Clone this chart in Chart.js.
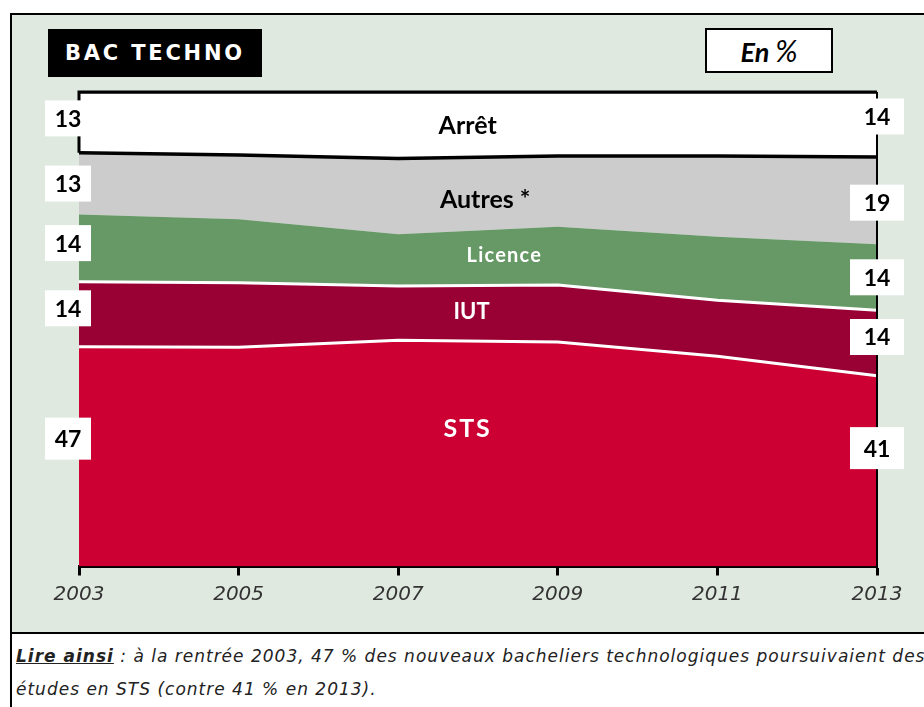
<!DOCTYPE html>
<html lang="fr">
<head>
<meta charset="utf-8">
<title>Bac techno</title>
<script src="https://cdn.jsdelivr.net/npm/chart.js@4/dist/chart.umd.min.js"></script>
<style>
  body { margin: 0; width: 924px; height: 707px; overflow: hidden; background: #fff; position: relative; }
  #panel { position: absolute; left: 10px; top: 13px; width: 930px; height: 617px; background: #dfe9e0; border: 2px solid #000; }
  #caption { position: absolute; left: 10px; top: 634px; width: 930px; height: 80px; border-left: 2px solid #000; }
  #caption p { margin: 0; position: absolute; left: 4px; white-space: nowrap; font: italic 17px "DejaVu Sans", sans-serif; color: #222; letter-spacing: 1px; }
  #title { position: absolute; left: 48px; top: 29px; width: 214px; height: 48px; background: #000; color: #fff;
           font: bold 21px "DejaVu Sans", sans-serif; letter-spacing: 2.8px; line-height: 48px; text-align: center; }
  #unit { position: absolute; left: 705px; top: 28px; width: 124px; height: 41px; background: #fff; border: 2px solid #000;
          font: italic bold 27px Lato, sans-serif; line-height: 41px; text-align: center; color: #000; }
  #unit span { font-weight: normal; font-size: 30px; }
  canvas { position: absolute; left: 0; top: 0; }
</style>
</head>
<body>
<div id="panel"></div>
<div id="title">BAC TECHNO</div>
<div id="unit">En <span>%</span></div>
<div id="caption">
  <p style="top: 12px;"><b><u>Lire ainsi</u></b> : à la rentrée 2003, 47 % des nouveaux bacheliers technologiques poursuivaient des</p>
  <p style="top: 45px;">études en STS (contre 41 % en 2013).</p>
</div>
<canvas id="chart" width="924" height="707"></canvas>
<script>
// years and shares (%), bottom to top of the stack
const years = ['2003', '2005', '2007', '2009', '2011', '2013'];
const sts = [46.3, 46.2, 47.7, 47.3, 44.3, 40.2];
const iut = [13.7, 13.6, 11.4, 12.0, 11.8, 13.8];
const licence = [14.2, 13.4, 10.9, 12.3, 13.4, 13.9];
const autres = [13.0, 13.5, 16.0, 14.9, 17.0, 18.4];
const arret = [12.8, 13.3, 14.0, 13.5, 13.5, 13.7];

// printed values at both ends (STS, IUT, Licence, Autres, Arrêt)
const startLabels = ['47', '14', '14', '13', '13'];
const endLabels = ['41', '14', '14', '19', '14'];
const bandNames = ['STS', 'IUT', 'Licence', 'Autres *', 'Arrêt'];

// label placement (pixel nudges / value-space positions)
const startNudge = [-18, -6, -5, 0, -4];
const endNudge = [-23, -6, 0, 2, -8];
const nameSpots = [
  { x: 0.487, v: 28.9, font: 'bold 25px Lato', color: '#fff', spacing: '2px' },
  { x: 0.492, v: 53.6, font: 'bold 22px Lato', color: '#fff', spacing: '0px' },
  { x: 0.533, v: 65.6, font: 'bold 20px Lato', color: '#fff', spacing: '1.2px' },
  { x: 0.509, v: 77.2, font: 'bold 25px Lato', color: '#000', spacing: '0px' },
  { x: 0.487, v: 92.8, font: 'bold 25px Lato', color: '#000', spacing: '0px' }
];

const series = [sts, iut, licence, autres, arret];

const labelPlugin = {
  id: 'bandLabels',
  afterDatasetsDraw(chart) {
    const { ctx, chartArea, scales: { x, y } } = chart;
    const bandMid = (i, idx) => {
      let lo = 0;
      for (let k = 0; k < idx; k++) lo += series[k][i];
      return y.getPixelForValue(lo + series[idx][i] / 2);
    };

    ctx.save();
    // frame of the chart area
    ctx.strokeStyle = '#000';
    ctx.lineWidth = 3;
    ctx.beginPath();
    ctx.moveTo(chartArea.left, y.getPixelForValue(100 - arret[0]));
    ctx.lineTo(chartArea.left, chartArea.top);
    ctx.lineTo(chartArea.right, chartArea.top);
    ctx.stroke();
    ctx.lineWidth = 2;
    ctx.beginPath();
    ctx.moveTo(chartArea.right, chartArea.top);
    ctx.lineTo(chartArea.right, chartArea.bottom);
    ctx.stroke();

    // value boxes
    ctx.textAlign = 'center';
    ctx.textBaseline = 'middle';
    ctx.font = 'bold 23px Lato';
    const last = years.length - 1;
    series.forEach((s, idx) => {
      const h = idx === 0 ? 42 : 36;
      const ly = bandMid(0, idx) + startNudge[idx];
      const lx = x.getPixelForValue(0) - 11;
      ctx.fillStyle = '#fff';
      ctx.fillRect(lx - 23, ly - h / 2, 46, h);
      ctx.fillStyle = '#000';
      ctx.fillText(startLabels[idx], lx, ly + 1);

      const ry = bandMid(last, idx) + endNudge[idx];
      const rx = x.getPixelForValue(last);
      ctx.fillStyle = '#fff';
      ctx.fillRect(rx - 27, ry - h / 2, 54, h);
      ctx.fillStyle = '#000';
      ctx.fillText(endLabels[idx], rx, ry + 1);
    });

    // band names
    nameSpots.forEach((n, idx) => {
      ctx.font = n.font;
      ctx.letterSpacing = n.spacing;
      ctx.fillStyle = n.color;
      ctx.fillText(bandNames[idx], chartArea.left + n.x * (chartArea.right - chartArea.left), y.getPixelForValue(n.v));
    });
    ctx.restore();
  }
};

const ctx = document.getElementById('chart').getContext('2d');
new Chart(ctx, {
  type: 'line',
  data: {
    labels: years,
    datasets: [
      { label: 'STS', data: sts, fill: 'origin', backgroundColor: '#cc0033', borderColor: '#fff', borderWidth: 3 },
      { label: 'IUT', data: iut, fill: '-1', backgroundColor: '#990033', borderColor: '#fff', borderWidth: 3 },
      { label: 'Licence', data: licence, fill: '-1', backgroundColor: '#669966', borderColor: '#669966', borderWidth: 0 },
      { label: 'Autres', data: autres, fill: '-1', backgroundColor: '#cccccc', borderColor: '#000', borderWidth: 3.5 },
      { label: 'Arrêt', data: arret, fill: '-1', backgroundColor: '#ffffff', borderColor: '#000', borderWidth: 3 }
    ]
  },
  options: {
    responsive: false,
    animation: false,
    layout: { padding: { left: 79, right: 47, top: 92, bottom: 80.5 } },
    elements: { point: { radius: 0 }, line: { tension: 0 } },
    plugins: { legend: { display: false }, tooltip: { enabled: false } },
    scales: {
      x: {
        offset: false,
        grid: { display: true, drawOnChartArea: false, drawTicks: true, tickLength: 9, tickWidth: 3, color: '#000' },
        border: { display: true, color: '#000', width: 3 },
        ticks: { color: '#333', padding: 7, maxRotation: 0, font: { family: 'DejaVu Sans', size: 20, style: 'italic' } },
        afterFit: scale => { scale.height = 60; }
      },
      y: {
        display: false,
        stacked: true,
        min: 0,
        max: 100
      }
    }
  },
  plugins: [labelPlugin]
});
</script>
</body>
</html>
